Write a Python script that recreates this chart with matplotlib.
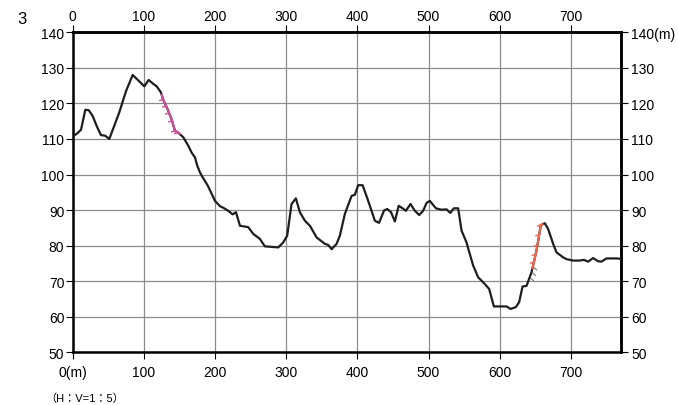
import numpy as np
import matplotlib
matplotlib.use("Agg")
import matplotlib.pyplot as plt

plt.rcParams['font.family'] = ['Liberation Sans', 'Noto Sans CJK JP', 'DejaVu Sans']

# profile: distance (m) and elevation (m)
dist = [0, 6, 11.7, 17.7, 22.5, 28, 34, 39.7, 45.8, 51.4, 58, 65.5, 75, 84.3, 92,
        100.6, 106.7, 113.2, 118, 124, 127, 133, 139, 143.7, 148, 155.3, 162.4,
        167, 171.8, 175, 178.8, 181.2, 190, 199.9, 206.9, 212, 218.5, 224.7,
        229.4, 235, 246.6, 253.7, 263, 270, 288.8, 295.8, 301.4, 307.5, 313.6,
        319.2, 326.3, 333.3, 342.7, 354.4, 359, 363.8, 370.8, 375.4, 382.4,
        391.9, 396.5, 401.1, 407.3, 415.2, 424.6, 430.4, 437.5, 442, 447.3,
        452.7, 458, 463.5, 468.1, 474.7, 480.8, 486.9, 492.4, 497.2, 501.8,
        510.3, 518.3, 525.3, 530.5, 535.6, 541.6, 546.4, 553.4, 556, 562.7,
        569.7, 579.1, 585.2, 591.8, 609.6, 615.2, 622.6, 627.3, 632.1, 637.7,
        644.7, 651.7, 657.8, 663.4, 668, 675.1, 679.8, 684.5, 689.1, 693.9,
        703.2, 712.6, 718.2, 724.2, 731.2, 738.3, 743, 750, 764, 770]
elev = [110.7, 111.5, 112.6, 118.2, 118.1, 116.5, 113.5, 111.1, 110.9, 110.0,
        113.5, 117.5, 123.5, 128.0, 126.5, 124.8, 126.6, 125.5, 124.8, 123.1,
        121.1, 118.5, 115.5, 112.3, 111.8, 110.5, 108.1, 106.2, 104.8, 102.5,
        100.6, 99.7, 96.8, 92.6, 91.1, 90.6, 89.8, 88.8, 89.4, 85.6, 85.2,
        83.3, 81.9, 79.8, 79.5, 80.9, 82.8, 91.7, 93.3, 89.4, 87.0, 85.6, 82.3,
        80.5, 80.2, 79.0, 80.5, 82.8, 88.9, 94.0, 94.3, 97.0, 97.0, 92.6, 87.0,
        86.4, 89.9, 90.3, 89.4, 86.8, 91.2, 90.5, 89.8, 91.7, 89.8, 88.6, 89.8,
        92.0, 92.6, 90.5, 90.1, 90.2, 89.2, 90.5, 90.5, 84.2, 80.9, 79.0, 74.4,
        71.1, 69.2, 67.8, 62.9, 62.9, 62.2, 62.7, 64.1, 68.5, 68.7, 72.5, 78.6,
        85.8, 86.3, 84.7, 80.5, 78.1, 77.4, 76.7, 76.2, 75.8, 75.8, 76.0, 75.5,
        76.5, 75.6, 75.5, 76.4, 76.4, 76.3]

# scarp segments (distance ranges)
pink_range = (125, 150)
orange_range = (646, 660)
gray_marks = [642, 644.7, 646.5]

x_ticks = [0, 100, 200, 300, 400, 500, 600, 700]
y_ticks = [50, 60, 70, 80, 90, 100, 110, 120, 130, 140]

dist = np.array(dist)
elev = np.array(elev)

fig = plt.figure(figsize=(6.78, 4.06), dpi=100)
ax = fig.add_axes([72.7 / 678, 1 - 353.3 / 406, 548 / 678, 320 / 406])
ax.set_xlim(0, 770)
ax.set_ylim(50, 140)

ax.set_xticks(x_ticks)
ax.set_yticks(y_ticks)
ax.grid(True, color='#8c8c8c', lw=0.9)
ax.set_axisbelow(True)

ax.plot(dist, elev, color='#1e1e1e', lw=1.6, zorder=3)


def segment(r):
    m = (dist > r[0]) & (dist < r[1])
    xs = np.concatenate([[r[0]], dist[m], [r[1]]])
    ys = np.interp(xs, dist, elev)
    return xs, ys


def ticks(r, color, n):
    # short marks on the left side of a scarp, in pixel units
    xs = np.linspace(r[0] + 2, r[1] - 2, n)
    ys = np.interp(xs, dist, elev)
    px_x, px_y = 548 / 770, 320 / 90
    for x, y in zip(xs, ys):
        ax.plot([x, x - 4 / px_x], [y, y - 1.2 / px_y], color=color, lw=1.0,
                zorder=4, solid_capstyle='butt')


xs, ys = segment(pink_range)
ax.plot(xs, ys, color='#d2509b', lw=1.5, zorder=4)
ticks(pink_range, '#d2509b', 6)

xs, ys = segment(orange_range)
ax.plot(xs, ys, color='#f2684e', lw=1.5, zorder=4)
ticks(orange_range, '#f2684e', 5)

for x in gray_marks:
    y = np.interp(x, dist, elev)
    ax.plot([x + 1.5, x + 5.5], [y - 0.2, y - 0.9], color='#777777', lw=0.8, zorder=4)

for s in ax.spines.values():
    s.set_linewidth(1.8)
    s.set_color('black')

ax.set_xticklabels(['0(m)'] + [str(v) for v in x_ticks[1:]])
ax.tick_params(axis='x', direction='out', length=5, width=0.8, pad=4, labelsize=10)
ax.tick_params(axis='y', direction='out', length=5, width=0.8, pad=1, labelsize=10)

top = ax.secondary_xaxis('top')
top.set_xticks(x_ticks)
top.set_xticklabels([str(v) for v in x_ticks])
top.tick_params(direction='out', length=5, width=0.8, pad=1.5, labelsize=10)
top.spines['top'].set_linewidth(1.8)

right = ax.secondary_yaxis('right')
right.set_yticks(y_ticks)
right.set_yticklabels([str(v) for v in y_ticks[:-1]] + ['140(m)'])
right.tick_params(direction='out', length=5, width=0.8, pad=2.5, labelsize=10)
right.spines['right'].set_linewidth(1.8)

fig.text(21.7 / 678, 1 - 20 / 406, '3', fontsize=12, ha='center', va='center')
fig.text(45 / 678, 1 - 399 / 406, '（H：V=1：5）', fontsize=8, ha='left', va='center')

fig.savefig('out.png', dpi=100)
